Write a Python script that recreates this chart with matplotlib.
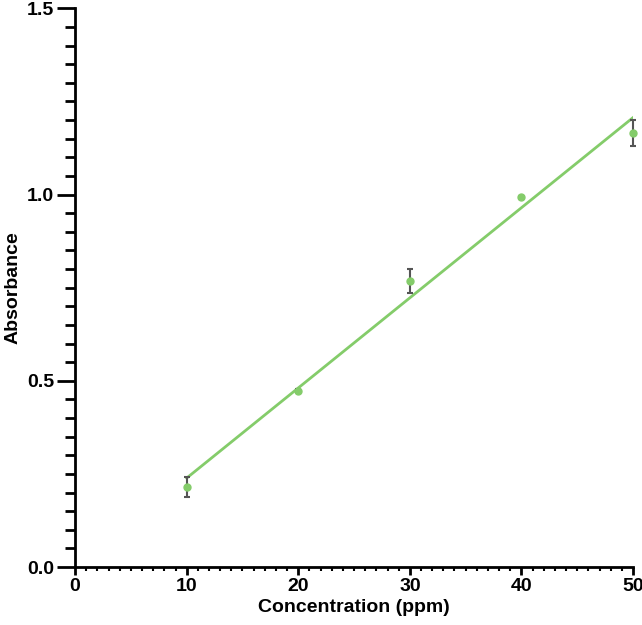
import numpy as np
import matplotlib
matplotlib.use("Agg")
import matplotlib.pyplot as plt
from matplotlib.ticker import MultipleLocator

conc = [10, 20, 30, 40, 50]
absorb = [0.215, 0.473, 0.768, 0.992, 1.165]
err = [0.027, 0.004, 0.032, 0.004, 0.035]

plt.rcParams['font.family'] = ['Liberation Sans', 'DejaVu Sans']
plt.rcParams['font.weight'] = 'bold'

fig = plt.figure(figsize=(6.42, 6.25), dpi=100)
ax = fig.add_axes([0.117, 0.0928, 0.869, 0.894])

green = '#84cc6a'
slope, icpt = np.polyfit(conc, absorb, 1)
xl = np.array([conc[0], conc[-1]])
ax.plot(xl, slope * xl + icpt, color=green, lw=2, zorder=2)
ax.errorbar(conc, absorb, yerr=err, fmt='o', color=green, ms=5,
            ecolor='#555555', elinewidth=1.5, capsize=2.5, capthick=1.5, zorder=3,
            clip_on=False)

ax.set_xlim(0, 50)
ax.set_ylim(0, 1.5)
ax.xaxis.set_major_locator(MultipleLocator(10))
ax.xaxis.set_minor_locator(MultipleLocator(1))
ax.yaxis.set_major_locator(MultipleLocator(0.5))
ax.yaxis.set_minor_locator(MultipleLocator(0.05))
ax.yaxis.set_major_formatter(matplotlib.ticker.FormatStrFormatter('%.1f'))
for s in ['top', 'right']:
    ax.spines[s].set_visible(False)
for s in ['left', 'bottom']:
    ax.spines[s].set_linewidth(2)
ax.tick_params(axis='y', which='major', length=13, width=2, labelsize=14, pad=2)
ax.tick_params(axis='y', which='minor', length=7, width=2)
ax.tick_params(axis='x', which='major', length=6, width=2, labelsize=14, pad=2)
ax.tick_params(axis='x', which='minor', length=3, width=1.5)
ax.set_xlabel('Concentration (ppm)', fontsize=14, fontweight='bold', labelpad=3)
ax.set_ylabel('Absorbance', fontsize=14, fontweight='bold', labelpad=4)
for lab in ax.get_xticklabels() + ax.get_yticklabels():
    lab.set_fontweight('bold')

fig.savefig('out.png', dpi=100)
